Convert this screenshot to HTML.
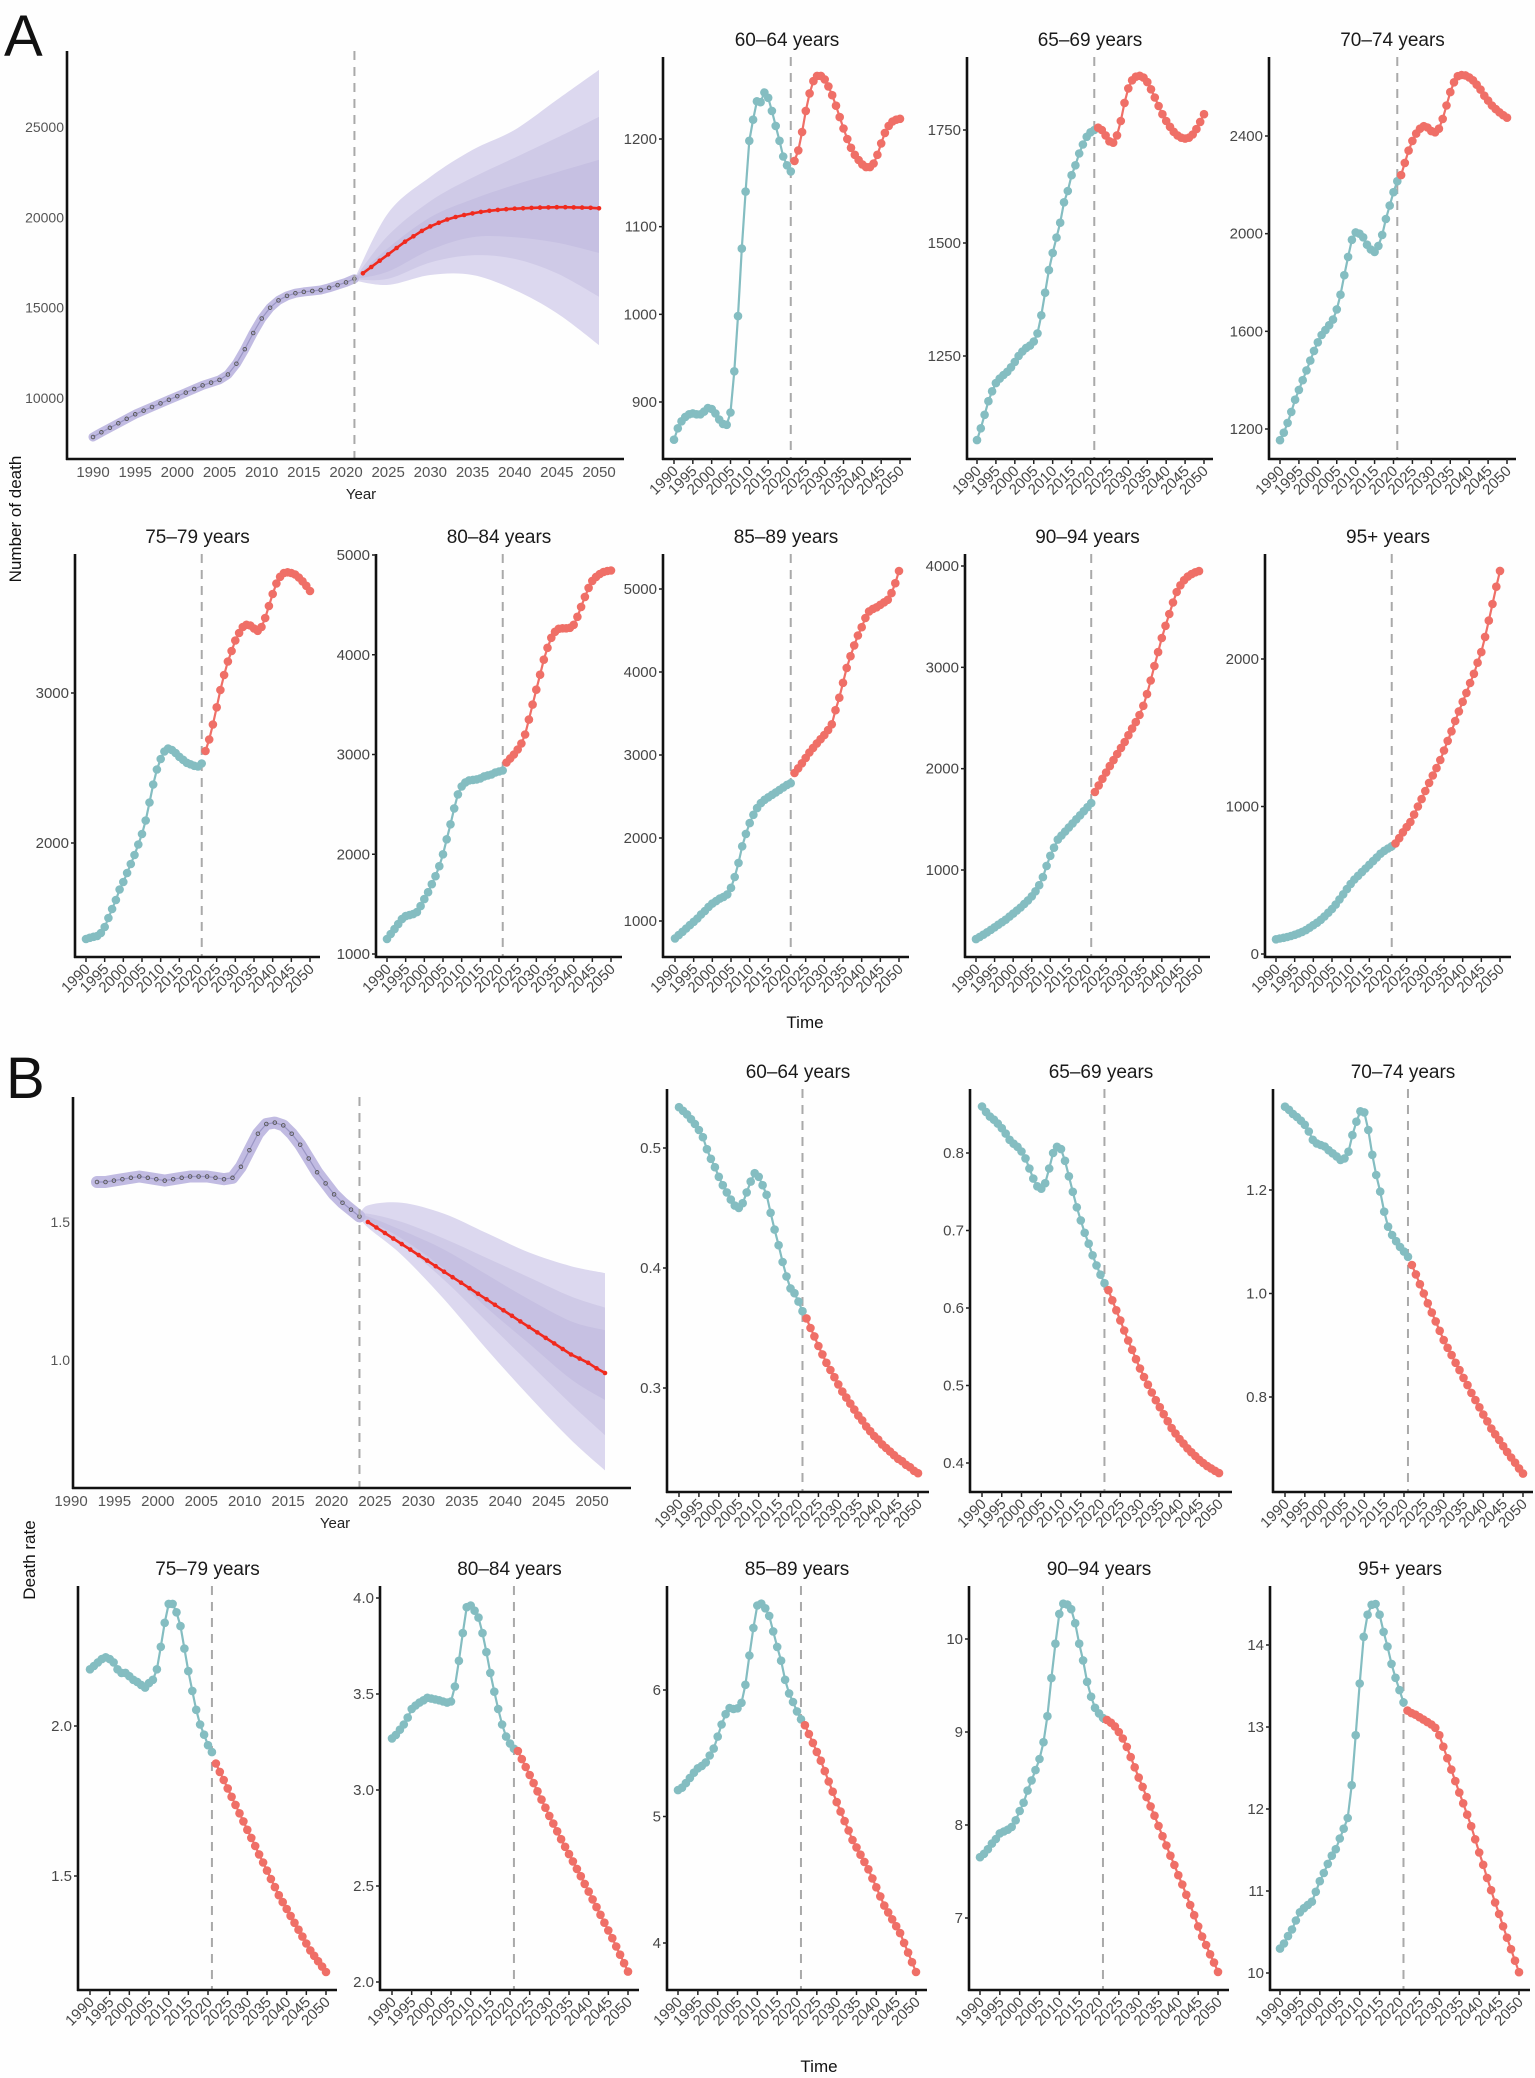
<!DOCTYPE html>
<html><head><meta charset="utf-8">
<style>
html,body{margin:0;padding:0;background:#fff;}
svg{display:block;font-family:"Liberation Sans",Arial,sans-serif;}
</style></head>
<body>
<svg id="chart" width="1535" height="2078" viewBox="0 0 1535 2078" xmlns="http://www.w3.org/2000/svg">
<rect x="0" y="0" width="1535" height="2078" fill="#fefefe"/>
<text x="4" y="56" font-size="58" fill="#111">A</text>
<text x="6" y="1098" font-size="58" fill="#111">B</text>
<text transform="translate(21,519) rotate(-90)" text-anchor="middle" font-size="17" fill="#111">Number of death</text>
<text transform="translate(35,1560) rotate(-90)" text-anchor="middle" font-size="17" fill="#111">Death rate</text>
<text x="805" y="1028" text-anchor="middle" font-size="17" fill="#111">Time</text>
<text x="819" y="2072" text-anchor="middle" font-size="17" fill="#111">Time</text>
</svg>
<script>
// ===== DATA =====
const yearTicks=[1990,1995,2000,2005,2010,2015,2020,2025,2030,2035,2040,2045,2050];
const histStartYear=1990;
const fcStartYear=2022;
const splitYear=2021;

// A main: number of deaths total
const aTotalHist=[7840,8100,8350,8600,8850,9100,9300,9500,9700,9900,10100,10300,10500,10700,10850,11000,11300,11900,12700,13600,14400,15000,15400,15650,15800,15870,15920,15980,16100,16250,16400,16600];
const aTotalFc=[16900,17250,17600,17950,18300,18650,18950,19250,19500,19700,19880,20020,20130,20220,20300,20360,20410,20450,20480,20500,20520,20540,20550,20560,20560,20550,20540,20530,20500];
const aBandYears=[2021,2025,2030,2035,2040,2045,2050];
const aOuterHi=[16600,20240,22240,23730,24840,26500,28160];
const aOuterLo=[16500,16260,16810,16810,15980,14700,12930];
const aMidHi=[16600,19000,20900,22200,23300,24400,25560];
const aMidLo=[16550,16600,17500,17900,17700,16900,15600];
const aInnerHi=[16600,18300,20000,21000,21800,22500,23180];
const aInnerLo=[16580,17000,18200,18900,18900,18600,18030];
const aMainTicks=[10000,15000,20000,25000];

// B main: death rate total
const bTotalHist=[1.645,1.645,1.65,1.655,1.66,1.665,1.66,1.655,1.65,1.655,1.66,1.665,1.665,1.665,1.66,1.655,1.66,1.70,1.76,1.82,1.855,1.86,1.85,1.82,1.78,1.73,1.68,1.64,1.60,1.57,1.545,1.52];
const bTotalFc=[1.50,1.48,1.46,1.44,1.42,1.40,1.38,1.36,1.34,1.32,1.30,1.28,1.26,1.24,1.22,1.20,1.18,1.16,1.14,1.12,1.10,1.08,1.06,1.04,1.02,1.005,0.99,0.97,0.953];
const bBandYears=[2021,2022,2026,2031,2036,2041,2046,2050];
const bOuterHi=[1.52,1.56,1.57,1.53,1.46,1.39,1.34,1.315];
const bOuterLo=[1.52,1.48,1.38,1.22,1.04,0.87,0.71,0.60];
const bMidHi=[1.52,1.53,1.50,1.44,1.37,1.30,1.23,1.19];
const bMidLo=[1.52,1.50,1.42,1.29,1.14,0.99,0.84,0.728];
const bInnerHi=[1.52,1.52,1.47,1.40,1.31,1.22,1.14,1.108];
const bInnerLo=[1.52,1.505,1.44,1.33,1.19,1.06,0.93,0.855];
const bMainTicks=[1.0,1.5];

// A panels (number of deaths by age)
const a60Hist=[857,870,878,883,886,887,886,886,889,893,892,887,880,875,874,888,935,998,1075,1140,1198,1222,1243,1242,1253,1247,1232,1215,1198,1180,1170,1163];
const a60Fc=[1175,1187,1208,1232,1252,1266,1272,1272,1268,1260,1250,1238,1225,1212,1200,1190,1182,1176,1171,1168,1168,1172,1182,1195,1207,1215,1220,1222,1223];
const a60Ticks=[900,1000,1100,1200];
const a65Hist=[1064,1090,1120,1150,1172,1190,1200,1208,1215,1225,1237,1250,1260,1268,1273,1282,1300,1340,1390,1440,1478,1512,1545,1590,1615,1650,1672,1698,1718,1735,1745,1750];
const a65Fc=[1755,1750,1738,1725,1722,1738,1770,1810,1842,1860,1868,1870,1866,1856,1840,1822,1803,1785,1770,1757,1746,1738,1733,1731,1733,1740,1752,1768,1785];
const a65Ticks=[1250,1500,1750];
const a70Hist=[1154,1185,1225,1270,1320,1360,1400,1440,1480,1520,1555,1585,1605,1625,1648,1690,1750,1830,1905,1975,2005,2000,1985,1955,1935,1925,1950,1995,2060,2115,2170,2215];
const a70Fc=[2240,2290,2340,2380,2410,2430,2440,2435,2420,2415,2430,2470,2525,2580,2620,2645,2650,2648,2640,2628,2610,2590,2565,2545,2525,2510,2497,2485,2475];
const a70Ticks=[1200,1600,2000,2400];
const a75Hist=[1360,1368,1375,1380,1400,1440,1500,1560,1620,1690,1740,1800,1860,1920,1990,2060,2150,2270,2390,2490,2560,2610,2630,2620,2600,2575,2555,2535,2525,2515,2510,2530];
const a75Fc=[2613,2690,2790,2905,3020,3120,3210,3280,3350,3400,3440,3455,3450,3430,3415,3440,3500,3580,3660,3730,3775,3800,3805,3800,3790,3770,3745,3715,3680];
const a75Ticks=[2000,3000];
const a80Hist=[1150,1200,1250,1300,1350,1380,1390,1400,1420,1480,1550,1620,1700,1780,1880,2000,2150,2300,2460,2600,2680,2720,2740,2745,2750,2760,2780,2790,2800,2820,2830,2840];
const a80Fc=[2920,2960,3000,3050,3110,3200,3350,3500,3650,3800,3950,4070,4170,4230,4260,4265,4265,4270,4300,4380,4480,4580,4670,4740,4780,4810,4830,4840,4845];
const a80Ticks=[1000,2000,3000,4000,5000];
const a85Hist=[790,830,870,910,950,990,1030,1080,1120,1170,1210,1240,1270,1290,1320,1400,1530,1700,1900,2050,2180,2280,2360,2420,2460,2490,2520,2550,2580,2610,2640,2660];
const a85Fc=[2783,2840,2900,2965,3030,3085,3140,3190,3240,3300,3370,3540,3690,3870,4050,4190,4320,4440,4540,4650,4730,4760,4780,4810,4840,4870,4950,5070,5217];
const a85Ticks=[1000,2000,3000,4000,5000];
const a90Hist=[318,340,362,385,410,435,460,485,510,540,570,600,630,665,700,740,790,850,930,1040,1140,1220,1300,1340,1380,1420,1460,1500,1540,1580,1620,1660];
const a90Fc=[1770,1835,1900,1962,2025,2085,2145,2205,2263,2330,2395,2460,2530,2620,2736,2870,3013,3150,3289,3410,3526,3640,3743,3810,3860,3895,3920,3938,3950];
const a90Ticks=[1000,2000,3000,4000];
const a95Hist=[100,105,110,115,122,130,140,150,162,178,195,212,232,255,280,305,335,370,405,440,475,505,530,555,580,605,630,655,680,700,715,730];
const a95Fc=[750,785,825,860,895,945,1000,1050,1105,1160,1210,1260,1315,1380,1445,1510,1580,1645,1710,1770,1837,1900,1975,2047,2150,2260,2373,2490,2597];
const a95Ticks=[0,1000,2000];

// B panels (death rate by age)
const b60Hist=[0.534,0.531,0.528,0.524,0.520,0.515,0.509,0.499,0.491,0.484,0.476,0.469,0.463,0.457,0.452,0.450,0.454,0.463,0.472,0.479,0.476,0.469,0.461,0.446,0.432,0.419,0.405,0.393,0.383,0.379,0.372,0.364];
const b60Fc=[0.358,0.350,0.343,0.335,0.328,0.321,0.315,0.309,0.303,0.297,0.292,0.287,0.282,0.277,0.273,0.268,0.264,0.260,0.257,0.253,0.250,0.247,0.244,0.241,0.239,0.236,0.234,0.231,0.229];
const b60Ticks=[0.3,0.4,0.5];
const b65Hist=[0.860,0.853,0.847,0.843,0.838,0.832,0.825,0.817,0.812,0.808,0.802,0.793,0.780,0.767,0.757,0.754,0.761,0.780,0.800,0.808,0.805,0.790,0.770,0.750,0.730,0.713,0.697,0.683,0.668,0.655,0.643,0.632];
const b65Fc=[0.623,0.610,0.597,0.584,0.571,0.558,0.546,0.534,0.522,0.511,0.501,0.491,0.481,0.472,0.463,0.454,0.445,0.438,0.431,0.425,0.419,0.414,0.409,0.404,0.400,0.396,0.393,0.390,0.387];
const b65Ticks=[0.4,0.5,0.6,0.7,0.8];
const b70Hist=[1.361,1.355,1.347,1.341,1.334,1.326,1.313,1.297,1.290,1.287,1.284,1.277,1.271,1.265,1.258,1.261,1.274,1.306,1.332,1.352,1.350,1.316,1.268,1.229,1.197,1.158,1.129,1.113,1.101,1.090,1.081,1.071];
const b70Fc=[1.055,1.037,1.018,1.000,0.981,0.963,0.946,0.928,0.910,0.895,0.881,0.866,0.852,0.837,0.823,0.808,0.794,0.780,0.766,0.753,0.739,0.728,0.717,0.705,0.694,0.683,0.673,0.662,0.652];
const b70Ticks=[0.8,1.0,1.2];
const b75Hist=[2.189,2.200,2.212,2.223,2.229,2.223,2.212,2.189,2.177,2.177,2.166,2.154,2.147,2.137,2.128,2.143,2.154,2.189,2.264,2.344,2.407,2.407,2.379,2.333,2.258,2.183,2.117,2.054,2.005,1.971,1.936,1.913];
const b75Fc=[1.875,1.847,1.820,1.792,1.764,1.737,1.709,1.682,1.654,1.627,1.600,1.572,1.545,1.518,1.490,1.463,1.436,1.413,1.390,1.367,1.344,1.321,1.298,1.275,1.252,1.234,1.216,1.198,1.180];
const b75Ticks=[1.5,2.0];
const b80Hist=[3.269,3.287,3.314,3.341,3.377,3.422,3.440,3.455,3.467,3.480,3.476,3.472,3.467,3.461,3.455,3.461,3.539,3.673,3.817,3.952,3.961,3.934,3.898,3.817,3.718,3.610,3.512,3.422,3.341,3.278,3.242,3.215];
const b80Fc=[3.203,3.161,3.120,3.078,3.036,2.993,2.950,2.908,2.865,2.825,2.785,2.744,2.704,2.666,2.628,2.589,2.551,2.511,2.471,2.430,2.390,2.350,2.309,2.269,2.228,2.185,2.142,2.098,2.054];
const b80Ticks=[2.0,2.5,3.0,3.5,4.0];
const b85Hist=[5.209,5.228,5.264,5.305,5.346,5.381,5.400,5.428,5.482,5.537,5.632,5.727,5.809,5.858,5.850,5.855,5.899,6.041,6.273,6.491,6.668,6.682,6.646,6.586,6.463,6.341,6.232,6.081,5.973,5.905,5.831,5.768];
const b85Fc=[5.722,5.652,5.582,5.511,5.441,5.359,5.277,5.196,5.114,5.039,4.964,4.889,4.814,4.756,4.698,4.641,4.583,4.511,4.440,4.368,4.296,4.242,4.187,4.133,4.078,4.001,3.924,3.848,3.771];
const b85Ticks=[4,5,6];
const b90Hist=[7.654,7.69,7.74,7.80,7.85,7.91,7.93,7.95,7.98,8.05,8.15,8.24,8.37,8.48,8.59,8.71,8.89,9.17,9.58,9.95,10.27,10.38,10.37,10.32,10.17,9.95,9.77,9.54,9.38,9.26,9.20,9.15];
const b90Fc=[9.13,9.10,9.06,9.00,8.93,8.84,8.73,8.62,8.51,8.41,8.30,8.20,8.10,7.99,7.88,7.78,7.67,7.57,7.46,7.36,7.25,7.14,7.03,6.91,6.80,6.71,6.61,6.52,6.42];
const b90Ticks=[7,8,9,10];
const b95Hist=[10.297,10.36,10.45,10.53,10.64,10.74,10.79,10.83,10.87,10.99,11.12,11.22,11.33,11.43,11.51,11.64,11.76,11.89,12.29,12.90,13.53,14.10,14.37,14.49,14.50,14.37,14.16,13.98,13.77,13.60,13.45,13.30];
const b95Fc=[13.20,13.17,13.15,13.12,13.09,13.06,13.03,12.99,12.90,12.76,12.62,12.48,12.34,12.20,12.07,11.93,11.79,11.63,11.47,11.32,11.16,11.01,10.86,10.72,10.57,10.43,10.29,10.15,10.01];
const b95Ticks=[10,11,12,13,14];

// ===== DRAWING =====
const NS='http://www.w3.org/2000/svg';
const svg=document.getElementById('chart');
function mk(tag,attrs,parent){const e=document.createElementNS(NS,tag);for(const k in attrs)e.setAttribute(k,attrs[k]);(parent||svg).appendChild(e);return e;}
function fmt(v,dec){return dec===0?String(v):v.toFixed(dec);}
const CYAN='#84bdc1', RED='#ef6f67', TXT='#474747';

function smallPanel(p,hist,fc,ticks,dec){
  const g=mk('g',{});
  
  
  const sx=yr=>p.x0+(yr-1990)/60*(p.x1-p.x0);
  const sy=v=>p.ya+(v-p.va)*(p.yb-p.ya)/(p.vb-p.va);
  const t=mk('text',{x:(p.ax+p.right)/2,y:p.top-11,'text-anchor':'middle','font-size':19,fill:'#1a1a1a'},g);
  t.textContent=p.title;
  
  
  const dl=mk('line',{x1:sx(splitYear),x2:sx(splitYear),y1:p.top,y2:p.bot,stroke:'#a9a9a9','stroke-width':2,'stroke-dasharray':'9,7'},g);
  
  
  const ya=mk('line',{x1:p.ax,x2:p.ax,y1:p.top,y2:p.bot+1,stroke:'#111','stroke-width':2.6},g);
  
  
  const xa=mk('line',{x1:p.ax-1,x2:p.right,y1:p.bot,y2:p.bot,stroke:'#111','stroke-width':2.6},g);
  
  
  ticks.forEach(v=>{
    const y=sy(v);
    const tk=mk('line',{x1:p.ax-4,x2:p.ax,y1:y,y2:y,stroke:'#222','stroke-width':1.5},g);
    
    
    const tl=mk('text',{x:p.ax-6,y:y+5,'text-anchor':'end','font-size':15,fill:TXT},g);
    tl.textContent=fmt(v,dec);
    
    
  });
  yearTicks.forEach(yr=>{
    const x=sx(yr);
    const tk=mk('line',{x1:x,x2:x,y1:p.bot,y2:p.bot+5,stroke:'#222','stroke-width':1.5},g);
    
    
    const tl=mk('text',{x:x+5,y:p.bot+13,'text-anchor':'end','font-size':15,fill:TXT,transform:`rotate(-45 ${x+5} ${p.bot+13})`},g);
    tl.textContent=yr;
    
    
  });
  const series=[[hist,histStartYear,CYAN,'historical'],[fc,fcStartYear,RED,'forecast']];
  series.forEach(([arr,start,col,nm])=>{
    const pts=arr.map((v,i)=>[sx(start+i),sy(v)]);
    const pl=mk('polyline',{points:pts.map(q=>q[0].toFixed(1)+','+q[1].toFixed(1)).join(' '),fill:'none',stroke:col,'stroke-width':2.2},g);
    
    
    pts.forEach(q=>{
      const c=mk('circle',{cx:q[0].toFixed(1),cy:q[1].toFixed(1),r:4.3,fill:col},g);
      
      
    });
  });
}

function smoothPath(pts,start){
  let d=start?('M'+pts[0][0].toFixed(1)+','+pts[0][1].toFixed(1)):('L'+pts[0][0].toFixed(1)+','+pts[0][1].toFixed(1));
  for(let i=0;i<pts.length-1;i++){
    const p0=pts[Math.max(0,i-1)],p1=pts[i],p2=pts[i+1],p3=pts[Math.min(pts.length-1,i+2)];
    const c1=[p1[0]+(p2[0]-p0[0])/6,p1[1]+(p2[1]-p0[1])/6];
    const c2=[p2[0]-(p3[0]-p1[0])/6,p2[1]-(p3[1]-p1[1])/6];
    d+=' C'+c1[0].toFixed(1)+','+c1[1].toFixed(1)+' '+c2[0].toFixed(1)+','+c2[1].toFixed(1)+' '+p2[0].toFixed(1)+','+p2[1].toFixed(1);
  }
  return d;
}
function bandPoly(g,years,hi,lo,sx,sy,fill,name){
  const top=years.map((y,i)=>[sx(y),sy(hi[i])]);
  const bot=years.map((y,i)=>[sx(y),sy(lo[i])]).reverse();
  const d=smoothPath(top,true)+' '+smoothPath(bot,false)+' Z';
  const pg=mk('path',{d:d,fill:fill},g);
  
  
}

function mainPanel(p,hist,fc,bands,ticks,dec){
  const g=mk('g',{});
  
  
  const sx=yr=>p.x0+(yr-1990)/60*(p.x1-p.x0);
  const sy=v=>p.ya+(v-p.va)*(p.yb-p.ya)/(p.vb-p.va);
  bandPoly(g,bands.years,bands.oh,bands.ol,sx,sy,'#dcd8ef','outer-interval-band');
  bandPoly(g,bands.years,bands.mh,bands.ml,sx,sy,'#cfcae7','middle-interval-band');
  bandPoly(g,bands.years,bands.ih,bands.il,sx,sy,'#c6c0e2','inner-interval-band');
  const hp=hist.map((v,i)=>[sx(histStartYear+i),sy(v)]);
  const hb=mk('polyline',{points:hp.map(q=>q[0].toFixed(1)+','+q[1].toFixed(1)).join(' '),fill:'none',stroke:'#c1bbe2','stroke-width':p.bw,'stroke-linecap':'round','stroke-linejoin':'round'},g);
  
  
  const hl=mk('polyline',{points:hp.map(q=>q[0].toFixed(1)+','+q[1].toFixed(1)).join(' '),fill:'none',stroke:'#9a95c4','stroke-width':1.2},g);
  
  
  hp.forEach(q=>{
    const c=mk('circle',{cx:q[0].toFixed(1),cy:q[1].toFixed(1),r:1.8,fill:'none',stroke:'#555','stroke-width':0.9},g);
    
    
  });
  const fp=fc.map((v,i)=>[sx(fcStartYear+i),sy(v)]);
  const fl=mk('polyline',{points:fp.map(q=>q[0].toFixed(1)+','+q[1].toFixed(1)).join(' '),fill:'none',stroke:'#f02a1e','stroke-width':2.6},g);
  
  
  fp.forEach(q=>{
    const c=mk('circle',{cx:q[0].toFixed(1),cy:q[1].toFixed(1),r:2.3,fill:'#f02a1e'},g);
    
    
  });
  const dl=mk('line',{x1:sx(splitYear),x2:sx(splitYear),y1:p.top,y2:p.bot,stroke:'#a9a9a9','stroke-width':2,'stroke-dasharray':'9,7'},g);
  
  
  const ya=mk('line',{x1:p.ax,x2:p.ax,y1:p.top,y2:p.bot+1,stroke:'#111','stroke-width':2.6},g);
  
  
  const xa=mk('line',{x1:p.ax-1,x2:p.right,y1:p.bot,y2:p.bot,stroke:'#111','stroke-width':2.6},g);
  
  
  ticks.forEach(v=>{
    const tl=mk('text',{x:p.ax-3,y:sy(v)+5,'text-anchor':'end','font-size':14,fill:'#555'},g);
    tl.textContent=fmt(v,dec);
    
    
  });
  yearTicks.forEach((yr,k)=>{
    const x=p.lx0+k*(p.lx1-p.lx0)/12;
    const tl=mk('text',{x:x,y:p.bot+18,'text-anchor':'middle','font-size':15,fill:'#555'},g);
    tl.textContent=yr;
    
    
  });
  const yt=mk('text',{x:p.yearX,y:p.bot+40,'text-anchor':'middle','font-size':15,fill:'#222'},g);
  yt.textContent='Year';
  
  
}

mainPanel({name:'total-deaths-forecast-chart',ax:67,right:624,top:51,bot:459,x0:93,x1:599,lx0:93,lx1:599,va:10000,ya:398,vb:25000,yb:127,bw:9,yearX:361},
  aTotalHist,aTotalFc,{years:aBandYears,oh:aOuterHi,ol:aOuterLo,mh:aMidHi,ml:aMidLo,ih:aInnerHi,il:aInnerLo},aMainTicks,0);
mainPanel({name:'total-death-rate-forecast-chart',ax:73,right:631,top:1097,bot:1488,x0:97,x1:605,lx0:71,lx1:592,va:1.0,ya:1360,vb:1.5,yb:1222,bw:12,yearX:335},
  bTotalHist,bTotalFc,{years:bBandYears,oh:bOuterHi,ol:bOuterLo,mh:bMidHi,ml:bMidLo,ih:bInnerHi,il:bInnerLo},bMainTicks,1);

smallPanel({name:'deaths-60-64-chart',title:'60\u201364 years',ax:663,right:911,top:57,bot:459,x0:674,x1:900,va:900,ya:402,vb:1200,yb:139},a60Hist,a60Fc,a60Ticks,0);
smallPanel({name:'deaths-65-69-chart',title:'65\u201369 years',ax:967,right:1213,top:57,bot:459,x0:977,x1:1204,va:1250,ya:356,vb:1750,yb:130},a65Hist,a65Fc,a65Ticks,0);
smallPanel({name:'deaths-70-74-chart',title:'70\u201374 years',ax:1269,right:1516,top:57,bot:459,x0:1280,x1:1507,va:1200,ya:429,vb:2400,yb:136},a70Hist,a70Fc,a70Ticks,0);
smallPanel({name:'deaths-75-79-chart',title:'75\u201379 years',ax:75,right:320,top:554,bot:957,x0:86,x1:310,va:2000,ya:843,vb:3000,yb:693},a75Hist,a75Fc,a75Ticks,0);
smallPanel({name:'deaths-80-84-chart',title:'80\u201384 years',ax:376,right:622,top:554,bot:957,x0:387,x1:611,va:1000,ya:954,vb:5000,yb:555},a80Hist,a80Fc,a80Ticks,0);
smallPanel({name:'deaths-85-89-chart',title:'85\u201389 years',ax:663,right:909,top:554,bot:957,x0:675,x1:899,va:1000,ya:921,vb:5000,yb:589},a85Hist,a85Fc,a85Ticks,0);
smallPanel({name:'deaths-90-94-chart',title:'90\u201394 years',ax:965,right:1210,top:554,bot:957,x0:976,x1:1199,va:1000,ya:870,vb:4000,yb:566},a90Hist,a90Fc,a90Ticks,0);
smallPanel({name:'deaths-95plus-chart',title:'95+ years',ax:1265,right:1511,top:554,bot:957,x0:1276,x1:1500,va:0,ya:954,vb:2000,yb:659},a95Hist,a95Fc,a95Ticks,0);

smallPanel({name:'rate-60-64-chart',title:'60\u201364 years',ax:667,right:929,top:1089,bot:1492,x0:679,x1:918,va:0.3,ya:1388,vb:0.5,yb:1148},b60Hist,b60Fc,b60Ticks,1);
smallPanel({name:'rate-65-69-chart',title:'65\u201369 years',ax:970,right:1232,top:1089,bot:1492,x0:982,x1:1219,va:0.4,ya:1463,vb:0.8,yb:1153},b65Hist,b65Fc,b65Ticks,1);
smallPanel({name:'rate-70-74-chart',title:'70\u201374 years',ax:1273,right:1533,top:1089,bot:1492,x0:1285,x1:1523,va:0.8,ya:1397,vb:1.2,yb:1190},b70Hist,b70Fc,b70Ticks,1);
smallPanel({name:'rate-75-79-chart',title:'75\u201379 years',ax:78,right:337,top:1586,bot:1990,x0:90,x1:326,va:1.5,ya:1876,vb:2.0,yb:1726},b75Hist,b75Fc,b75Ticks,1);
smallPanel({name:'rate-80-84-chart',title:'80\u201384 years',ax:380,right:639,top:1586,bot:1990,x0:392,x1:628,va:2.0,ya:1982,vb:4.0,yb:1598},b80Hist,b80Fc,b80Ticks,1);
smallPanel({name:'rate-85-89-chart',title:'85\u201389 years',ax:667,right:927,top:1586,bot:1990,x0:678,x1:916,va:4,ya:1943,vb:6,yb:1690},b85Hist,b85Fc,b85Ticks,0);
smallPanel({name:'rate-90-94-chart',title:'90\u201394 years',ax:969,right:1229,top:1586,bot:1990,x0:980,x1:1218,va:7,ya:1918,vb:10,yb:1639},b90Hist,b90Fc,b90Ticks,0);
smallPanel({name:'rate-95plus-chart',title:'95+ years',ax:1270,right:1530,top:1586,bot:1990,x0:1280,x1:1519,va:10,ya:1973,vb:14,yb:1645},b95Hist,b95Fc,b95Ticks,0);
</script>
</body></html>
